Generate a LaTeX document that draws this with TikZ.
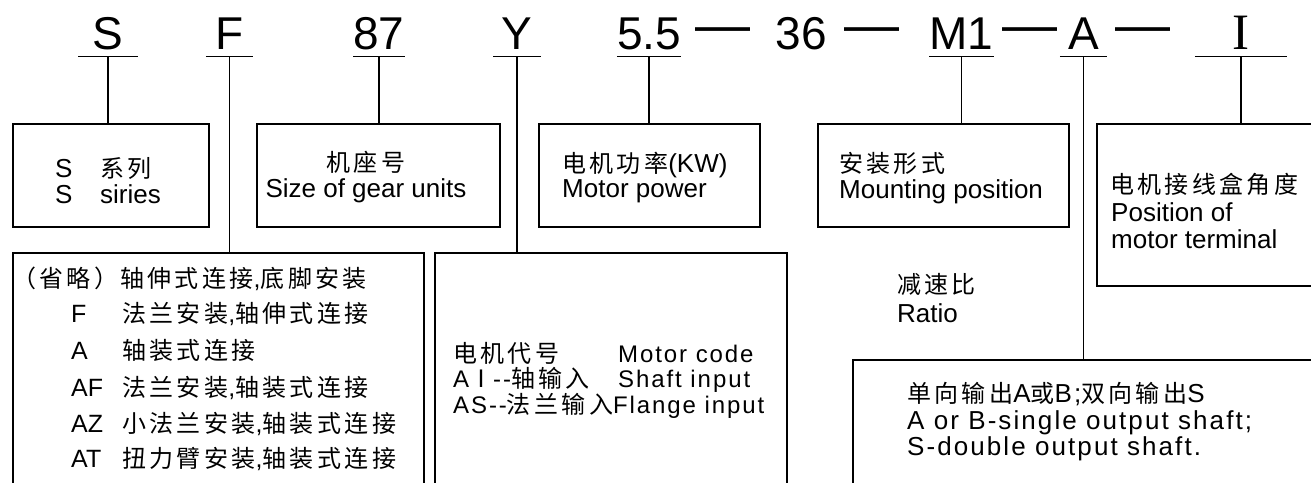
\documentclass[tikz,border=0pt]{standalone}
\usepackage{fontspec}
\setmainfont{Liberation Sans}
\newfontfamily\cjk{Noto Sans CJK SC}[LetterSpace=14]
\newfontfamily\wide{Liberation Sans}[LetterSpace=8]
\newfontfamily\serifI{Liberation Serif}
\newcommand\zh[1]{{\cjk\fontsize{24}{24}\selectfont #1}}

\begin{document}
\begin{tikzpicture}[x=1pt, y=-1pt,
	frame/.style={draw, line width=1.2pt, inner sep=0pt},
	code/.style={font=\fontsize{46}{46}\selectfont, anchor=base, inner xsep=0pt, inner ysep=7pt, text depth=0pt, minimum width=#1},
	bar/.style={font=\fontsize{55}{55}\selectfont, anchor=base, inner sep=0pt},
	wire/.style={line width=1.2pt},
	lbl/.style={anchor=base west, inner sep=0pt, font=\fontsize{26}{26}\selectfont},
	lblc/.style={anchor=base, inner sep=0pt, font=\fontsize{26}{26}\selectfont},
	lblw/.style={anchor=base west, inner sep=0pt, font=\fontsize{#1}{#1}\selectfont\wide},
	lblf/.style={anchor=base west, inner sep=0pt, font=\fontsize{25}{25}\selectfont}]
		\useasboundingbox (0,0) rectangle (1311,482);
		\clip (0,0) rectangle (1311,482);
		% type code
		\node[code=59pt] (cS) at (108,49) {S};
		\node[code=47pt] (cF) at (229.5,49) {F};
		\node[code=48pt] (c87) at (379,49) {87};
		\node[code=47pt] (cY) at (517,49) {Y};
		\node[code=48pt] (c55) at (649,49) {5.5};
		\node[bar] (d1) at (722.5,43) {—};
		\node[code=0pt] (c36) at (801,49) {36};
		\node[bar] (d2) at (872,43) {—};
		\node[code=49pt] (cM1) at (961.5,49) {M1};
		\node[bar] (d3) at (1029.5,43) {—};
		\node[code=47pt] (cA) at (1083.5,49) {A};
		\node[bar] (d4) at (1142.5,43) {—};
		\node[code=92pt] (cI) at (1241,49) {\fontsize{51}{51}\serifI I};
		% boxes
		\node[frame, minimum width=196pt, minimum height=103pt] (sbox) at (111,175.5) {};
		\node[frame, minimum width=243pt, minimum height=103pt] (sizebox) at (378.5,175.5) {};
		\node[frame, minimum width=221pt, minimum height=103pt] (powerbox) at (649.5,175.5) {};
		\node[frame, minimum width=251pt, minimum height=103pt] (mountbox) at (943.5,175.5) {};
		\node[frame, minimum width=233pt, minimum height=162pt] (termbox) at (1213.5,205) {};
		\node[frame, minimum width=411pt, minimum height=247pt] (fbox) at (218.5,376.5) {};
		\node[frame, minimum width=352pt, minimum height=247pt] (ybox) at (611,376.5) {};
		\node[frame, minimum width=477pt, minimum height=140pt] (abox) at (1091.5,430) {};
		% underlines and leads
		\draw[wire] (cS.south west) -- (cS.south east) (cS.south) -- (cS.south |- sbox.north);
		\draw[wire] (cF.south west) -- (cF.south east) (cF.south) -- (cF.south |- fbox.north);
		\draw[wire] (c87.south west) -- (c87.south east) (c87.south) -- (c87.south |- sizebox.north);
		\draw[wire] (cY.south west) -- (cY.south east) (cY.south) -- (cY.south |- ybox.north);
		\draw[wire] (c55.south west) -- (c55.south east) (c55.south) -- (c55.south |- powerbox.north);
		\draw[wire] (cM1.south west) -- (cM1.south east) (cM1.south) -- (cM1.south |- mountbox.north);
		\draw[wire] (cA.south west) -- (cA.south east) (cA.south) -- (cA.south |- abox.north);
		\draw[wire] (cI.south west) -- (cI.south east) (cI.south) -- (cI.south |- termbox.north);
		% texts, upper row
		\node[lbl] (s1) at (55,177) {\makebox[45pt][l]{S}\zh{系列}};
		\node[lbl] (s2) at (55,203) {\makebox[45pt][l]{S}siries};
		\node[lblc] (size1) at (366,171) {\zh{机座号}};
		\node[lblc] (size2) at (366,197) {Size of gear units};
		\node[lbl] (power1) at (562,172) {\zh{电机功率}(KW)};
		\node[lbl] (power2) at (562,197) {Motor power};
		\node[lbl] (mount1) at (839,172) {\zh{安装形式}};
		\node[lbl] (mount2) at (839,198) {Mounting position};
		\node[lbl] (term1) at (1110,193) {\zh{电机接线盒角度}};
		\node[lbl] (term2) at (1111,221) {Position of};
		\node[lbl] (term3) at (1111,248) {motor terminal};
		\node[lbl] (ratio1) at (897,293) {\zh{减速比}};
		\node[lbl] (ratio2) at (897,322) {Ratio};
		% texts, lower row
		\node[lblf] (f1) at (12,287) {\zh{（省略）}\hskip2pt\zh{轴伸式连接},\zh{底脚安装}};
		\node[lblf] (f2) at (71,322) {\makebox[51pt][l]{F}\zh{法兰安装},\zh{轴伸式连接}};
		\node[lblf] (f3) at (71,359) {\makebox[51pt][l]{A}\zh{轴装式连接}};
		\node[lblf] (f4) at (71,396) {\makebox[51pt][l]{AF}\zh{法兰安装},\zh{轴装式连接}};
		\node[lblf] (f5) at (71,432) {\makebox[51pt][l]{AZ}\zh{小法兰安装},\zh{轴装式连接}};
		\node[lblf] (f6) at (71,467) {\makebox[51pt][l]{AT}\zh{扭力臂安装},\zh{轴装式连接}};
		\node[lblw=24] (y1) at (453,362) {\makebox[165pt][l]{\zh{电机代号}}Motor code};
		\node[lblw=24] (y2) at (453,387) {\makebox[165pt][l]{A\zh{Ⅰ}--\zh{轴输入}}Shaft input};
		\node[lblw=24] (y3) at (453,413) {AS--\zh{法兰输入}Flange input};
		\node[lblw=26] (a1) at (907,402) {\zh{单向输出}A\zh{或}B;\zh{双向输出}S};
		\node[lblw=26] (a2) at (907,429) {A or B-single output shaft;};
		\node[lblw=26] (a3) at (907,455) {S-double output shaft.};
	\end{tikzpicture}
\end{document}
